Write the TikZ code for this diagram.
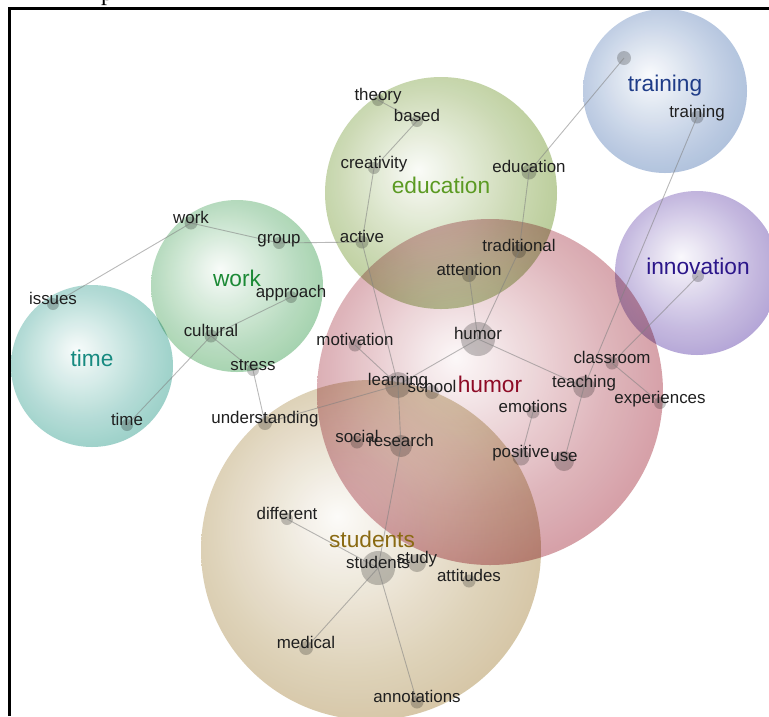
\documentclass[tikz,border=0pt]{standalone}
\usepackage{fontspec}
\setmainfont{Liberation Sans}
\newfontfamily\serifp{Liberation Serif}
\colorlet{bubcol}{white}
\pgfdeclareradialshading[bubcol]{bubble}{\pgfpoint{-5bp}{5bp}}{color(0bp)=(bubcol!5!white); color(20bp)=(bubcol!55!white); color(38bp)=(bubcol!92!white); color(50bp)=(bubcol)}
\definecolor{cTrain}{HTML}{8BA5CD}
\definecolor{cInnov}{HTML}{927CC4}
\definecolor{cEduc}{HTML}{9BB66C}
\definecolor{cHumor}{HTML}{C2737E}
\definecolor{cStud}{HTML}{C3AD7E}
\definecolor{cWork}{HTML}{7CBE8A}
\definecolor{cTime}{HTML}{6EBBB0}
\definecolor{tTrain}{HTML}{1F3C88}
\definecolor{tInnov}{HTML}{2B168A}
\definecolor{tEduc}{HTML}{5B9A22}
\definecolor{tHumor}{HTML}{8E0B26}
\definecolor{tStud}{HTML}{8A6A12}
\definecolor{tWork}{HTML}{1C8A36}
\definecolor{tTime}{HTML}{178A80}
\newcommand\mybubble[4]{\begingroup\colorlet{bubcol}{#4}\shade[shading=bubble, fill opacity=.95, blend mode=multiply] (#1,#2) circle[radius=#3];\endgroup}
\tikzset{
  tdot/.style={circle, fill=black, fill opacity=0.22, draw=none, inner sep=0pt, minimum size=#1},
  tdot/.default=13,
  lbl/.style={anchor=base, inner sep=0pt, text=black!88, font=\fontsize{16.9}{18}\selectfont},
  ttl/.style={anchor=base, inner sep=0pt, font=\fontsize{22.7}{24}\selectfont},
  edge/.style={draw=black!50, line width=0.9pt, draw opacity=0.55}
}
\begin{document}
\begin{tikzpicture}[x=1pt,y=-1pt]
\useasboundingbox (0,0) rectangle (769,716);
\fill[white] (0,0) rectangle (769,716);
% caption fragment
\node[anchor=base west, inner sep=0pt, font=\serifp\fontsize{24}{24}\selectfont] (capfrag) at (101,0) {p};
% frame
\draw[line width=2.2pt] (9.5,716) -- (9.5,8.5) -- (769,8.5);
% bubbles
\mybubble{92}{366}{81}{cTime}
\mybubble{237}{286}{86}{cWork}
\mybubble{441}{193}{116}{cEduc}
\mybubble{665}{91}{82}{cTrain}
\mybubble{697}{273}{82}{cInnov}
\mybubble{490}{392}{173}{cHumor}
\mybubble{371}{550}{170}{cStud}
% dots
\node[tdot=12] (theory) at (378,100) {};
\node[tdot=12] (based) at (417,121) {};
\node[tdot=12] (creativity) at (374,168) {};
\node[tdot=15] (educ) at (529,172) {};
\node[tdot=13] (active) at (362,242) {};
\node[tdot=13] (workw) at (191,223) {};
\node[tdot=12] (group) at (279,243) {};
\node[tdot=12] (approach) at (291,297) {};
\node[tdot=12] (issues) at (53,304) {};
\node[tdot=13] (cultural) at (211,336) {};
\node[tdot=12] (stress) at (253,370) {};
\node[tdot=12] (timew) at (127,425) {};
\node[tdot=14] (understanding) at (265,423) {};
\node[tdot=14] (traditional) at (519,251) {};
\node[tdot=14] (attention) at (469,275) {};
\node[tdot=34] (humorw) at (478,339) {};
\node[tdot=13] (motivation) at (355,345) {};
\node[tdot=13] (classroom) at (612,363) {};
\node[tdot=12] (innov) at (698,276) {};
\node[tdot=14] (traintop) at (624,58) {};
\node[tdot=13] (trainw) at (697,117) {};
\node[tdot=26] (learning) at (398,385) {};
\node[tdot=14] (school) at (432,392) {};
\node[tdot=22] (teaching) at (584,387) {};
\node[tdot=12] (experiences) at (660,403) {};
\node[tdot=13] (emotions) at (533,412) {};
\node[tdot=13] (social) at (357,442) {};
\node[tdot=22] (research) at (401,446) {};
\node[tdot=17] (positive) at (521,457) {};
\node[tdot=20] (use) at (564,461) {};
\node[tdot=12] (different) at (287,519) {};
\node[tdot=34] (studentsw) at (378,568) {};
\node[tdot=18] (study) at (417,563) {};
\node[tdot=13] (attitudes) at (469,581) {};
\node[tdot=14] (medical) at (306,648) {};
\node[tdot=13] (annotations) at (417,702) {};
% edges
\foreach \a/\b in {theory/based, based/creativity, creativity/active, active/group, group/workw, workw/issues, active/learning, traintop/educ, educ/traditional, traditional/humorw, attention/humorw, trainw/teaching, teaching/use, innov/classroom, classroom/experiences, humorw/teaching, humorw/learning, motivation/learning, learning/understanding, stress/understanding, cultural/stress, cultural/approach, cultural/timew, learning/research, research/studentsw, emotions/positive, studentsw/different, studentsw/medical, studentsw/annotations}
  \draw[edge] (\a.center) -- (\b.center);
% titles
\node[ttl, text=tTime] (tTimeN) at (92,366) {time};
\node[ttl, text=tWork] (tWorkN) at (237,286) {work};
\node[ttl, text=tEduc] (tEducN) at (441,193) {education};
\node[ttl, text=tTrain] (tTrainN) at (665,91) {training};
\node[ttl, text=tInnov] (tInnovN) at (698,274) {innovation};
\node[ttl, text=tHumor] (tHumorN) at (490,392) {humor};
\node[ttl, text=tStud] (tStudN) at (372,547) {students};
% labels
\foreach \n/\t in {theory/theory, based/based, creativity/creativity, educ/education, active/active, workw/work, group/group, approach/approach, issues/issues, cultural/cultural, stress/stress, timew/time, understanding/understanding, traditional/traditional, attention/attention, humorw/humor, motivation/motivation, classroom/classroom, trainw/training, learning/learning, school/school, teaching/teaching, experiences/experiences, emotions/emotions, social/social, research/research, positive/positive, use/use, different/different, studentsw/students, study/study, attitudes/attitudes, medical/medical, annotations/annotations}
  \node[lbl] (L\n) at (\n.center) {\t};
\end{tikzpicture}
\end{document}
